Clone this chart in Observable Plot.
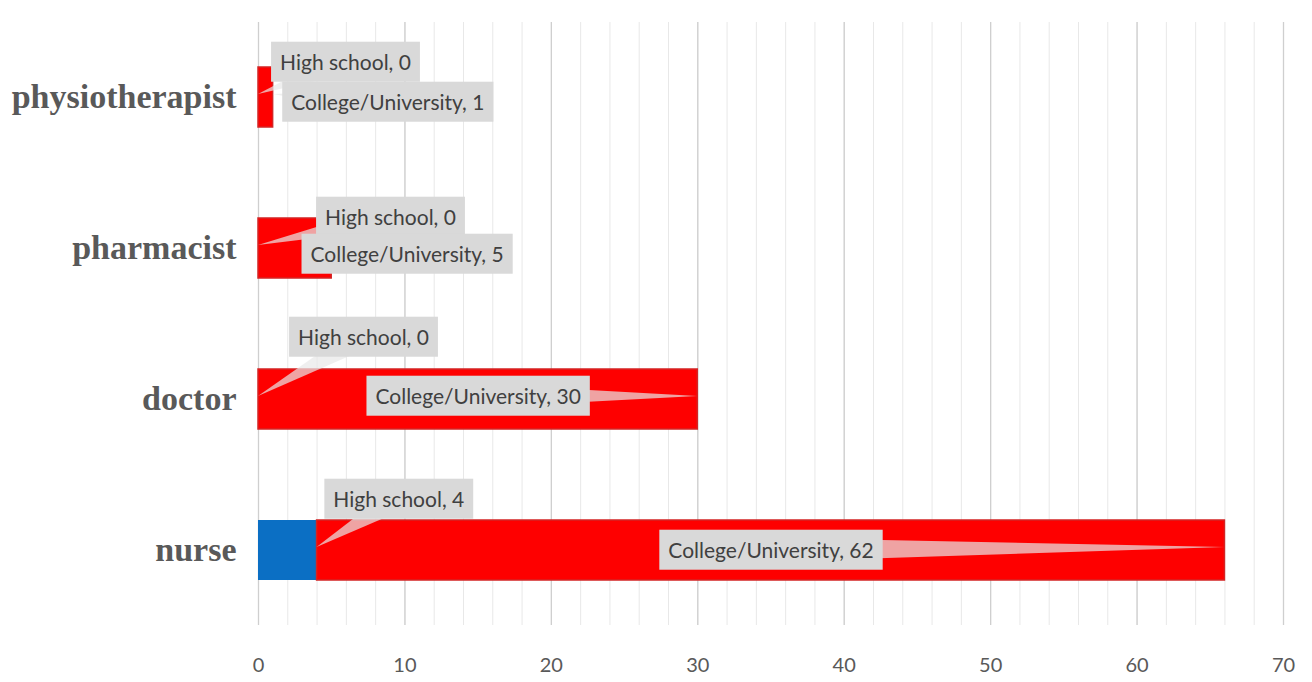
<!DOCTYPE html>
<html><head><meta charset="utf-8">
<script src="https://cdn.jsdelivr.net/npm/d3@7"></script>
<script src="https://cdn.jsdelivr.net/npm/@observablehq/plot@0.6"></script>
<style>
body{margin:0;background:#fff;}
#chart svg g[aria-label^="y-axis"] text{font-family:"Liberation Serif",serif;font-weight:bold;font-size:34px;fill:#595959;}
#chart svg g[aria-label^="x-axis"] text{font-family:Lato,sans-serif;font-size:20px;fill:#595959;}
</style></head><body><div id="chart"></div>
<script>
// ---- data ----
const categories = ["physiotherapist", "pharmacist", "doctor", "nurse"];
const seriesNames = ["High school", "College/University"];
const highSchool = [0, 0, 0, 4];
const college = [1, 5, 30, 62];
const xTicks = [0, 10, 20, 30, 40, 50, 60, 70];
const minorTicks = [0, 2, 4, 6, 8, 10, 12, 14, 16, 18, 20, 22, 24, 26, 28, 30, 32, 34, 36, 38, 40, 42, 44, 46, 48, 50, 52, 54, 56, 58, 60, 62, 64, 66, 68, 70];

// ---- layout (callout label offsets in px: [dx, dy] from segment middle) ----
const calloutLayout = {
  "physiotherapist|High school": [87, -34],
  "physiotherapist|College/University": [122, 6],
  "pharmacist|High school": [132, -30],
  "pharmacist|College/University": [112, 7],
  "doctor|High school": [105, -61],
  "doctor|College/University": [0, -2],
  "nurse|High school": [111, -50],
  "nurse|College/University": [0, 1]
};
const colors = ["#0b6fc4", "#fe0000"];

// build stacked segments from data
const seriesValues = [highSchool, college];
const segments = [];
categories.forEach((c, i) => {
  let acc = 0;
  seriesNames.forEach((s, j) => {
    const v = seriesValues[j][i];
    segments.push({category: c, series: s, value: v, x1: acc, x2: acc + v});
    acc += v;
  });
});

const labelMarks = segments.map(s => {
  const [dx, dy] = calloutLayout[s.category + "|" + s.series];
  return Plot.text([s], {
    x: d => (d.x1 + d.x2) / 2, y: "category",
    text: d => `${d.series}, ${d.value}`,
    dx, dy, fontSize: 21, fontFamily: "Lato, sans-serif", fill: "#404040", textAnchor: "middle"
  });
});

const chart = Plot.plot({
  width: 1312, height: 682,
  marginLeft: 258, marginRight: 29, marginTop: 22, marginBottom: 57,
  style: {background: "#fff"},
  x: {domain: [0, 70], ticks: xTicks, tickSize: 0, tickPadding: 32, label: null},
  y: {domain: categories, paddingInner: 0.6, paddingOuter: 0.29, tickSize: 0, tickPadding: 22, label: null},
  color: {domain: seriesNames, range: colors},
  marks: [
    Plot.ruleX(minorTicks, {stroke: "#e8e8e8", strokeWidth: 1}),
    Plot.ruleX(xTicks, {stroke: "#cfcfcf", strokeWidth: 1.3}),
    Plot.barX(segments, {x1: "x1", x2: "x2", y: "category", fill: "series"}),
    Plot.barX(segments.filter(d => d.series === "College/University"), {x1: "x1", x2: "x2", y: "category", fill: "none", stroke: "#d42424", strokeWidth: 1.5}),
    ...labelMarks
  ]
});
document.getElementById("chart").append(chart);

// callout boxes and wedges behind the label texts
const xs = chart.scale("x"), ys = chart.scale("y");
const svgRect = chart.getBoundingClientRect();
const textGroups = Array.from(chart.querySelectorAll('g[aria-label="text"]'));
const ns = "http://www.w3.org/2000/svg";
const wedgeLayer = document.createElementNS(ns, "g");
const boxLayer = document.createElementNS(ns, "g");
textGroups[0].parentNode.insertBefore(wedgeLayer, textGroups[0]);
textGroups[0].parentNode.insertBefore(boxLayer, textGroups[0]);
textGroups.forEach((g, i) => {
  const s = segments[i];
  const t = g.querySelector("text");
  const r = t.getBoundingClientRect();
  const bx = r.left - svgRect.left - 9, bw = r.width + 18;
  const cy = r.top - svgRect.top + r.height / 2;
  const bh = 40, by = cy - bh / 2;
  const cx = bx + bw / 2;
  const tipX = xs.apply(s.x2), tipY = ys.apply(s.category) + ys.bandwidth / 2 - 3;
  const ang = Math.atan2(tipY - cy, tipX - cx);
  const h = 12, px = -Math.sin(ang) * h, py = Math.cos(ang) * h;
  const poly = document.createElementNS(ns, "polygon");
  poly.setAttribute("points", `${tipX},${tipY} ${cx + px},${cy + py} ${cx - px},${cy - py}`);
  poly.setAttribute("fill", "#e8e8e8");
  poly.setAttribute("fill-opacity", "0.7");
  wedgeLayer.append(poly);
  const rect = document.createElementNS(ns, "rect");
  rect.setAttribute("x", bx); rect.setAttribute("y", by);
  rect.setAttribute("width", bw); rect.setAttribute("height", bh);
  rect.setAttribute("fill", "#d9d9d9");
  boxLayer.append(rect);
});
</script></body></html>
